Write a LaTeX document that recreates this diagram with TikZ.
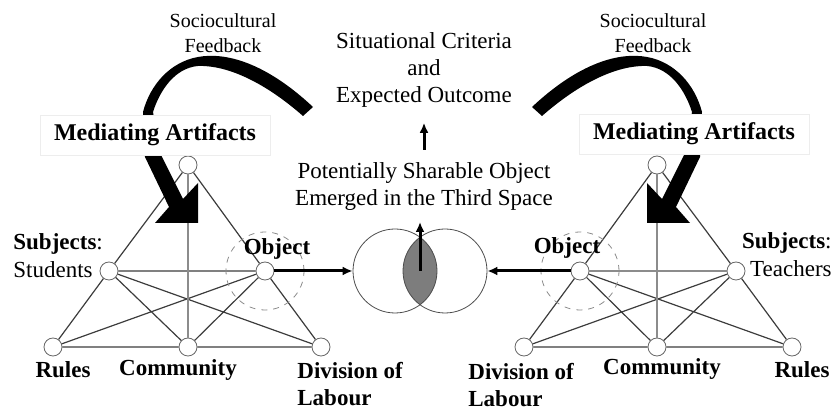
\documentclass[tikz,border=0pt]{standalone}
\usepackage{fontspec}
\setmainfont{Liberation Serif}
\usetikzlibrary{arrows.meta,calc}
\definecolor{edgegray}{RGB}{60,60,60}
\definecolor{axisgray}{RGB}{140,140,140}
\definecolor{lensgray}{RGB}{125,125,125}
\tikzset{
  vert/.style={circle, draw=black!60, fill=white, thin, minimum size=9pt, inner sep=0pt},
  link/.style={draw=edgegray, line width=0.6pt},
  axis/.style={draw=axisgray, line width=1.1pt},
  objring/.style={circle, draw=black!45, dashed, thin, minimum size=39pt, inner sep=0pt},
  lbl/.style={font=\fontsize{11.5}{13.5}\selectfont\bfseries, inner sep=0pt},
  txt/.style={font=\fontsize{11.5}{13.5}\selectfont, inner sep=0pt, align=center},
  subj/.style={font=\fontsize{11.5}{14}\selectfont, inner sep=0pt},
  fbk/.style={font=\fontsize{10}{12.5}\selectfont, inner sep=0pt, align=center},
  mabox/.style={draw=black!7, fill=white, minimum width=115pt, minimum height=20pt,
                font=\fontsize{12}{14}\selectfont\bfseries},
  venn/.style={circle, draw=black!70, thin, minimum size=42pt, inner sep=0pt},
  flow/.style={-{Latex[length=5pt,width=4.5pt]}, line width=1.5pt},
  fbkarrow/.pic={
    \fill (303,116) -- (313,107)
      .. controls (265,62) and (225,52) .. (198,57)
      .. controls (170,62) and (150,85) .. (143,112)
      -- (145,157) -- (169,207) -- (155,223) -- (198,223) -- (198,183)
      -- (183,199) -- (160,153) -- (153,112)
      .. controls (160,90) and (175,68) .. (198,66)
      .. controls (225,65) and (262,80) .. (303,116) -- cycle;
  }
}

\begin{document}
\begin{tikzpicture}[x=0.5pt, y=-0.5pt]
\useasboundingbox (0,0) rectangle (835,410);
% left activity system
\node[vert] (lt) at (188,165) {};
\node[vert] (ls) at (109,271) {};
\node[vert] (lo) at (265,271) {};
\node[vert] (lr) at (53,347) {};
\node[vert] (lc) at (188,347) {};
\node[vert] (ld) at (321,347) {};
\draw[link] (lt) -- (ls) -- (lr) -- (lc) -- (ld) -- (lo) -- (lt);
\draw[link] (ls) -- (lo) (ls) -- (lc) (ls) -- (ld) (lo) -- (lr) (lo) -- (lc);
\draw[axis] (lt) -- (lc);
\node[objring] (lring) at (lo) {};
% right activity system
\node[vert] (rt) at (657,165) {};
\node[vert] (ro) at (580,271) {};
\node[vert] (rs) at (736,271) {};
\node[vert] (rd) at (524,347) {};
\node[vert] (rc) at (657,347) {};
\node[vert] (rr) at (792,347) {};
\draw[link] (rt) -- (ro) -- (rd) -- (rc) -- (rr) -- (rs) -- (rt);
\draw[link] (ro) -- (rc) (ro) -- (rr) (rs) -- (rc) (rs) -- (rd);
\draw[axis] (ro) -- (rs) (rt) -- (rc);
\node[objring] (rring) at (ro) {};
% feedback arrows
\pic at (0,0) {fbkarrow};
\pic[xscale=-1] at (845,0) {fbkarrow};
\node[mabox] (lmed) at (155,135) {Mediating Artifacts};
\node[mabox] (rmed) at (694,134) {Mediating Artifacts};
\node[fbk] (lfbk) at (223,33) {Sociocultural\\Feedback};
\node[fbk] (rfbk) at (653,33) {Sociocultural\\Feedback};
% labels
\node[subj, anchor=west, align=left] (lsubj) at (13,256) {\textbf{Subjects}:\\Students};
\node[lbl] (lobj) at (277,249) {Object};
\node[lbl] (lrules) at (63,370) {Rules};
\node[lbl] (lcomm) at (178,370) {Community};
\node[lbl, anchor=west, align=left] (ldiv) at (297,384) {Division of\\Labour};
\node[subj, anchor=east, align=right] (rsubj) at (832,255) {\textbf{Subjects}:\\Teachers};
\node[lbl] (robj) at (567,248) {Object};
\node[lbl] (rrules) at (802,370) {Rules};
\node[lbl] (rcomm) at (662,369) {Community};
\node[lbl, anchor=west, align=left] (rdiv) at (468,385) {Division of\\Labour};
% third space
\begin{scope}
  \clip (395,271) circle [radius=21pt];
  \fill[lensgray] (445,271) circle [radius=21pt];
\end{scope}
\node[venn] (vl) at (395,271) {};
\node[venn] (vr) at (445,271) {};
\coordinate (lens) at (420,271);
\coordinate (lenstip) at (420,222);
\draw[flow] (lo) -- (vl);
\draw[flow] (ro) -- (vr);
\draw[flow] (lens) -- (lenstip);
\node[txt] (crit) at (424,70) {Situational Criteria\\and\\Expected Outcome};
\node[txt] (pso) at (424,187) {Potentially Sharable Object\\Emerged in the Third Space};
\draw[flow, shorten <=6.5pt, shorten >=7.5pt] (pso) -- (crit);
\end{tikzpicture}
\end{document}
